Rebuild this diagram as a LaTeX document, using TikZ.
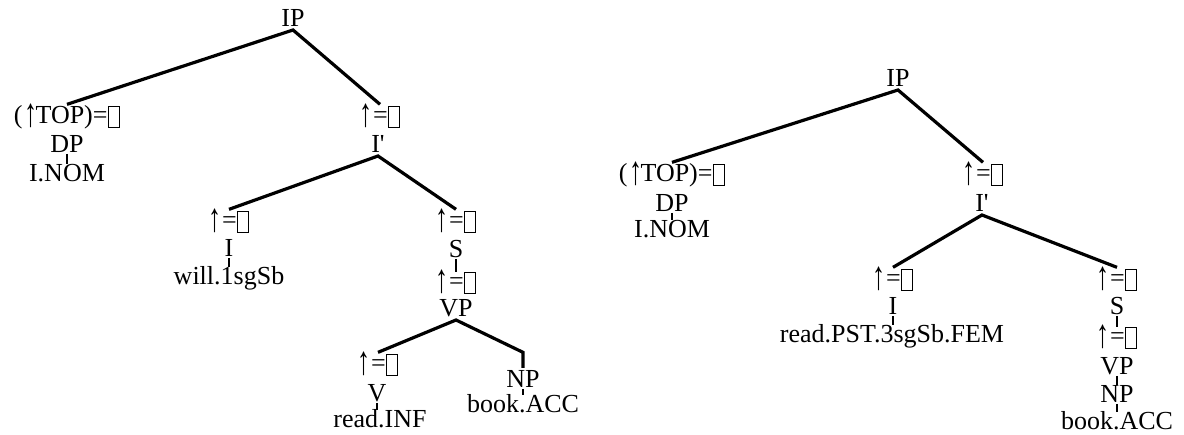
\documentclass[tikz,border=0pt]{standalone}
\usepackage{graphicx}
\usepackage{fontspec}
\setmainfont{Liberation Serif}
% empty placeholder box used in the functional equations
\newcommand{\phbox}{\kern0.5pt\raisebox{-3pt}{\setlength{\fboxsep}{0pt}\setlength{\fboxrule}{1.1pt}\fbox{\rule{0pt}{19.8pt}\hspace{9.8pt}}}}
% tall up arrow
\newcommand{\uparr}{\raisebox{-3pt}{\scalebox{1}[1.55]{↑}}}
\newcommand{\upeq}{\uparr\kern0.5pt=\phbox}
\begin{document}
\begin{tikzpicture}[x=1pt,y=-1pt,
  every node/.style={inner sep=0pt,outer sep=0pt,anchor=base,font=\fontsize{26}{30}\selectfont},
  lab/.style={text height=17pt,text depth=0pt,inner ysep=3pt},
  eqn/.style={text depth=0pt},
  edge/.style={line width=3.2pt},
  tick/.style={line width=2pt,shorten <=-2pt,shorten >=-2pt}]
\useasboundingbox (0,0) rectangle (1184,435);

% ---------- left tree ----------
\node[lab] (LIP)   at (293,27)  {IP};
\node[eqn] (Ltop)  at (67,124)  {(\kern2pt\uparr\kern-2pt TOP)=\phbox};
\node[lab] (LDP)   at (67,153)  {DP};
\node[lab] (LNOM)  at (67,182)  {I.NOM};
\node[eqn] (Lieq)  at (380,124) {\upeq};
\node[lab] (LIb)   at (378,153) {I\textquotesingle};
\node[eqn] (Laeq)  at (229,229) {\upeq};
\node[lab] (LI)    at (229,257) {I};
\node[lab] (Lwill) at (229,285) {will.1sgSb};
\node[eqn] (Lseq)  at (456,229) {\upeq};
\node[lab] (LS)    at (456,258) {S};
\node[eqn] (Lveq)  at (456,290) {\upeq};
\node[lab] (LVP)   at (456,317) {VP};
\node[eqn] (Lvveq) at (378,372) {\upeq};
\node[lab] (LV)    at (377,402) {V};
\node[lab] (Lread) at (380,428) {read.INF};
\node[lab] (LNP)   at (523,388) {NP};
\node[lab] (Lbook) at (523,413) {book.ACC};

\draw[edge] (Ltop.north) -- (LIP.south) -- (Lieq.north);
\draw[edge] (Laeq.north) -- (LIb.south) -- (Lseq.north);
\draw[edge] (Lvveq.north) -- (LVP.south) -- (LNP.north |- Lvveq.north) -- (LNP.north);
\draw[tick] (LDP.south) -- (LDP.south |- LNOM.north);
\draw[tick] (LI.south) -- (LI.south |- Lwill.north);
\draw[tick] (LS.south) -- (LS.south |- Lveq.north);
\draw[tick] (LV.south) -- (LV.south |- Lread.north);
\draw[tick] (LNP.south) -- (LNP.south |- Lbook.north);

% ---------- right tree ----------
\node[lab] (RIP)   at (898,87)   {IP};
\node[eqn] (Rtop)  at (672,182)  {(\kern2pt\uparr\kern-2pt TOP)=\phbox};
\node[lab] (RDP)   at (672,212)  {DP};
\node[lab] (RNOM)  at (672,238)  {I.NOM};
\node[eqn] (Rieq)  at (983,182)  {\upeq};
\node[lab] (RIb)   at (982,212)  {I\textquotesingle};
\node[eqn] (Raeq)  at (893,287)  {\upeq};
\node[lab] (RI)    at (893,315)  {I};
\node[lab] (Rread) at (892,343)  {read.PST.3sgSb.FEM};
\node[eqn] (Rseq)  at (1117,287) {\upeq};
\node[lab] (RS)    at (1117,315) {S};
\node[eqn] (Rveq)  at (1117,345) {\upeq};
\node[lab] (RVP)   at (1117,375) {VP};
\node[lab] (RNP)   at (1117,403) {NP};
\node[lab] (Rbook) at (1117,430) {book.ACC};

\draw[edge] (Rtop.north) -- (RIP.south) -- (Rieq.north);
\draw[edge] (Raeq.north) -- (RIb.south) -- (Rseq.north);
\draw[tick] (RDP.south) -- (RDP.south |- RNOM.north);
\draw[tick] (RI.south) -- (RI.south |- Rread.north);
\draw[tick] (RS.south) -- (RS.south |- Rveq.north);
\draw[tick] (RVP.south) -- (RVP.south |- RNP.north);
\draw[tick] (RNP.south) -- (RNP.south |- Rbook.north);
\end{tikzpicture}
\end{document}
